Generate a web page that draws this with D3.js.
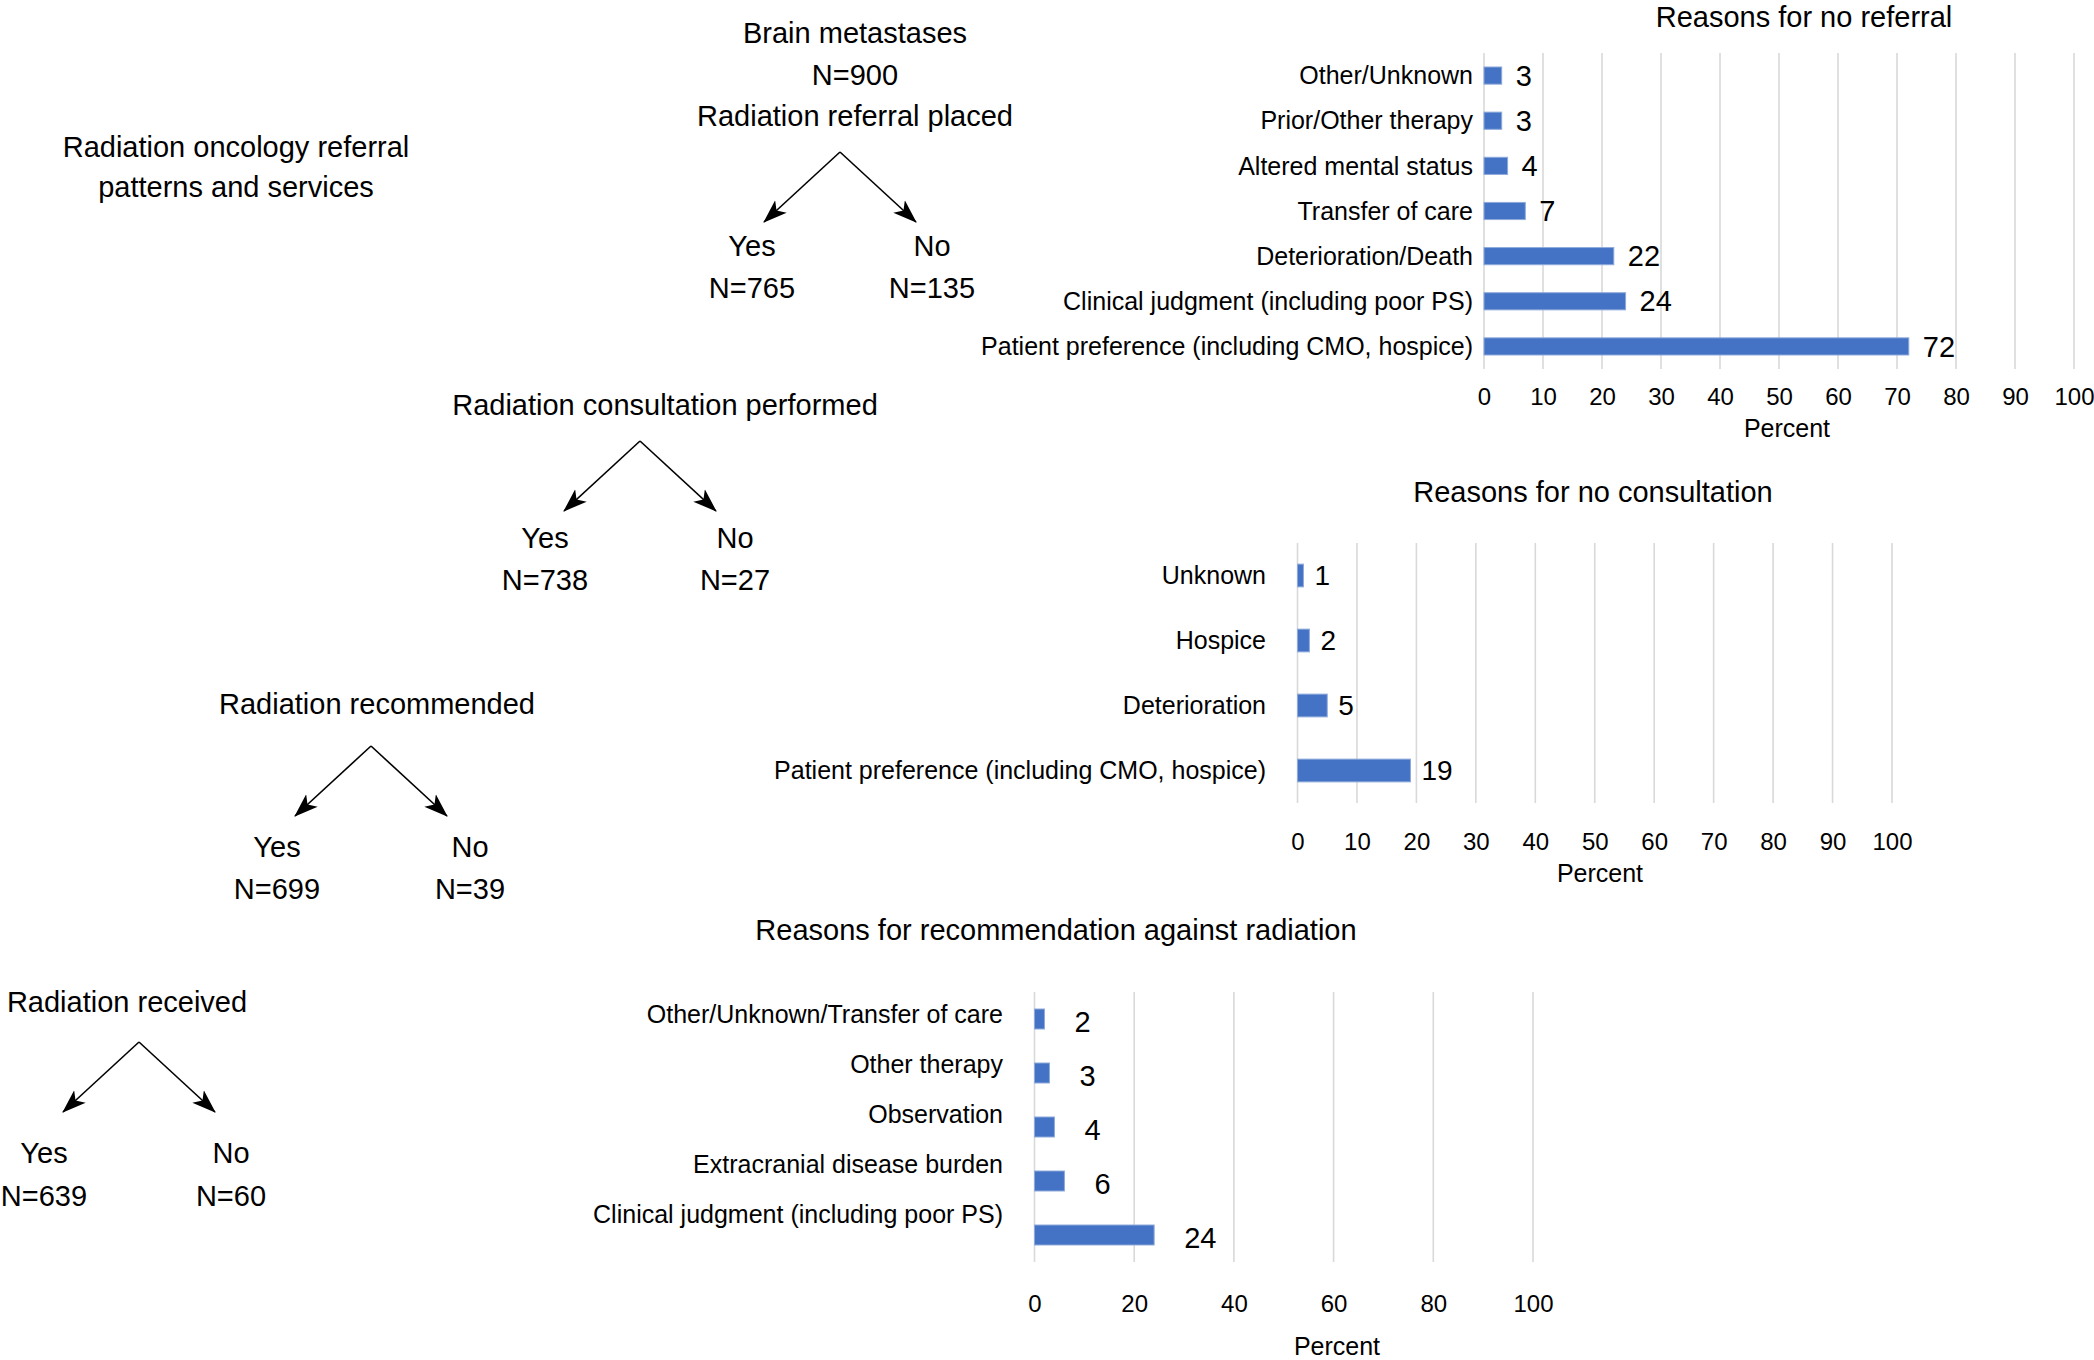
<!DOCTYPE html>
<html>
<head>
<meta charset="utf-8">
<script src="https://cdn.jsdelivr.net/npm/d3@7"></script>
<style>
  html, body { margin: 0; padding: 0; background: #ffffff; }
  svg { display: block; }
  text { font-family: "Liberation Sans", Arial, Helvetica, sans-serif; fill: #000; }
</style>
</head>
<body>
<script>
// ---------------- DATA ----------------
const headline = ["Radiation oncology referral", "patterns and services"];
const rootLabel = "Brain metastases";
const rootN = 900;
const stageLabels = ["Radiation referral placed", "Radiation consultation performed", "Radiation recommended", "Radiation received"];
const yesCounts = [765, 738, 699, 639];
const noCounts = [135, 27, 39, 60];

const noReferralReasons = ["Other/Unknown", "Prior/Other therapy", "Altered mental status", "Transfer of care",
  "Deterioration/Death", "Clinical judgment (including poor PS)", "Patient preference (including CMO, hospice)"];
const noReferralPct = [3, 3, 4, 7, 22, 24, 72];

const noConsultReasons = ["Unknown", "Hospice", "Deterioration", "Patient preference (including CMO, hospice)"];
const noConsultPct = [1, 2, 5, 19];

const againstReasons = ["Other/Unknown/Transfer of care", "Other therapy", "Observation",
  "Extracranial disease burden", "Clinical judgment (including poor PS)"];
const againstPct = [2, 3, 4, 6, 24];

const ticksByTen = [0, 10, 20, 30, 40, 50, 60, 70, 80, 90, 100];
const ticksByTwenty = [0, 20, 40, 60, 80, 100];

const chartTitles = ["Reasons for no referral", "Reasons for no consultation", "Reasons for recommendation against radiation"];
const axisTitle = "Percent";

// ---------------- DRAWING ----------------
const W = 2094, H = 1360;
const svg = d3.select("body").append("svg").attr("width", W).attr("height", H)
  .attr("viewBox", `0 0 ${W} ${H}`);
svg.append("rect").attr("width", W).attr("height", H).attr("fill", "#fff");

const defs = svg.append("defs");
defs.append("marker")
  .attr("id", "arrow")
  .attr("viewBox", "0 -10 24 20")
  .attr("refX", 23).attr("refY", 0)
  .attr("markerWidth", 24).attr("markerHeight", 20)
  .attr("markerUnits", "userSpaceOnUse")
  .attr("orient", "auto")
  .append("path")
  .attr("d", "M0,-8.5L24,0L0,8.5L6,0Z")
  .attr("fill", "#000");

const BIG = 29;

// headline
const hl = svg.append("text").attr("text-anchor", "middle").attr("font-size", BIG);
headline.forEach((t, i) => {
  hl.append("tspan").attr("x", 236).attr("y", 157 + i * 40).text(t);
});

// root labels
svg.append("text").attr("x", 855).attr("y", 43).attr("text-anchor", "middle")
  .attr("font-size", BIG).text(rootLabel);
svg.append("text").attr("x", 855).attr("y", 85).attr("text-anchor", "middle")
  .attr("font-size", BIG).text("N=" + rootN);

// tree layout (positions)
const trees = [
  { titleX: 855, titleY: 126, apexX: 840, apexY: 152, yesX: 752, noX: 932, yesY: 256, nY: 298 },
  { titleX: 665, titleY: 415, apexX: 640, apexY: 441, yesX: 545, noX: 735, yesY: 548, nY: 590 },
  { titleX: 377, titleY: 714, apexX: 371, apexY: 746, yesX: 277, noX: 470, yesY: 857, nY: 899 },
  { titleX: 127, titleY: 1012, apexX: 139, apexY: 1042, yesX: 44, noX: 231, yesY: 1163, nY: 1206 }
];
const armDX = 76, armDY = 70;

stageLabels.forEach((label, i) => {
  const L = trees[i];
  const g = svg.append("g");
  g.append("text").attr("x", L.titleX).attr("y", L.titleY).attr("text-anchor", "middle")
    .attr("font-size", BIG).text(label);
  [-1, 1].forEach(s => {
    g.append("line")
      .attr("x1", L.apexX).attr("y1", L.apexY)
      .attr("x2", L.apexX + s * armDX).attr("y2", L.apexY + armDY)
      .attr("stroke", "#000").attr("stroke-width", 1.6)
      .attr("marker-end", "url(#arrow)");
  });
  g.append("text").attr("x", L.yesX).attr("y", L.yesY).attr("text-anchor", "middle")
    .attr("font-size", BIG).text("Yes");
  g.append("text").attr("x", L.yesX).attr("y", L.nY).attr("text-anchor", "middle")
    .attr("font-size", BIG).text("N=" + yesCounts[i]);
  g.append("text").attr("x", L.noX).attr("y", L.yesY).attr("text-anchor", "middle")
    .attr("font-size", BIG).text("No");
  g.append("text").attr("x", L.noX).attr("y", L.nY).attr("text-anchor", "middle")
    .attr("font-size", BIG).text("N=" + noCounts[i]);
});

// bar chart function
function barChart(cfg) {
  const g = svg.append("g");
  const x = d3.scaleLinear().domain([0, 100]).range([cfg.x0, cfg.x1]);
  const y = d3.scaleBand().domain(cfg.cats).range([cfg.yTop, cfg.yBot])
    .paddingInner(cfg.pad).paddingOuter(cfg.pad / 2);
  const labelY = cfg.labelRange
    ? d3.scalePoint().domain(cfg.cats).range(cfg.labelRange)
    : (c => y(c) + y.bandwidth() / 2);

  // gridlines
  g.append("g").selectAll("line").data(cfg.ticks).join("line")
    .attr("x1", d => x(d)).attr("x2", d => x(d))
    .attr("y1", cfg.yTop).attr("y2", cfg.yBot)
    .attr("stroke", "#d9d9d9").attr("stroke-width", 1.6);

  // bars
  g.append("g").selectAll("rect").data(cfg.vals).join("rect")
    .attr("x", x(0))
    .attr("y", (d, i) => y(cfg.cats[i]))
    .attr("width", d => x(d) - x(0))
    .attr("height", y.bandwidth())
    .attr("fill", "#4472C4")
    .attr("stroke", "#8eaadb").attr("stroke-width", 1);

  // value labels
  g.append("g").selectAll("text").data(cfg.vals).join("text")
    .attr("x", d => x(d) + cfg.valGap)
    .attr("y", (d, i) => y(cfg.cats[i]) + y.bandwidth() / 2 + (cfg.valDY || 0))
    .attr("dy", "0.35em")
    .attr("font-size", cfg.valSize)
    .text(d => d);

  // category labels
  g.append("g").selectAll("text").data(cfg.cats).join("text")
    .attr("x", cfg.catRight)
    .attr("y", d => labelY(d))
    .attr("dy", "0.35em")
    .attr("text-anchor", "end")
    .attr("font-size", 25)
    .text(d => d);

  // axis (labels only)
  const ax = g.append("g").attr("transform", `translate(0,${cfg.yBot})`)
    .call(d3.axisBottom(x).tickValues(cfg.ticks).tickSize(0).tickPadding(cfg.tickPad).tickFormat(d3.format("d")));
  ax.select(".domain").remove();
  ax.selectAll("text").attr("font-size", 24).attr("fill", "#000")
    .style("font-family", '"Liberation Sans", Arial, Helvetica, sans-serif');

  // axis title
  g.append("text").attr("x", cfg.axTitleX).attr("y", cfg.axTitleY)
    .attr("text-anchor", "middle").attr("font-size", 25).text(axisTitle);

  // chart title
  g.append("text").attr("x", cfg.titleX).attr("y", cfg.titleY)
    .attr("text-anchor", "middle").attr("font-size", BIG).text(cfg.title);
}

barChart({
  cats: noReferralReasons, vals: noReferralPct, ticks: ticksByTen,
  x0: 1484, x1: 2074, yTop: 53, yBot: 369, pad: 0.62,
  catRight: 1473, valGap: 14, valSize: 29, tickPad: 19,
  axTitleX: 1787, axTitleY: 437, titleX: 1804, titleY: 27, title: chartTitles[0]
});

barChart({
  cats: noConsultReasons, vals: noConsultPct, ticks: ticksByTen,
  x0: 1297.5, x1: 1892, yTop: 543, yBot: 803, pad: 0.65,
  catRight: 1266, valGap: 11, valSize: 28, tickPad: 30,
  axTitleX: 1600, axTitleY: 882, titleX: 1593, titleY: 502, title: chartTitles[1]
});

barChart({
  cats: againstReasons, vals: againstPct, ticks: ticksByTwenty,
  x0: 1034.5, x1: 1533, yTop: 992, yBot: 1262, pad: 0.63,
  catRight: 1003, valGap: 30, valSize: 29, tickPad: 33, valDY: 3,
  labelRange: [1014, 1214],
  axTitleX: 1337, axTitleY: 1355, titleX: 1056, titleY: 940, title: chartTitles[2]
});
</script>
</body>
</html>
